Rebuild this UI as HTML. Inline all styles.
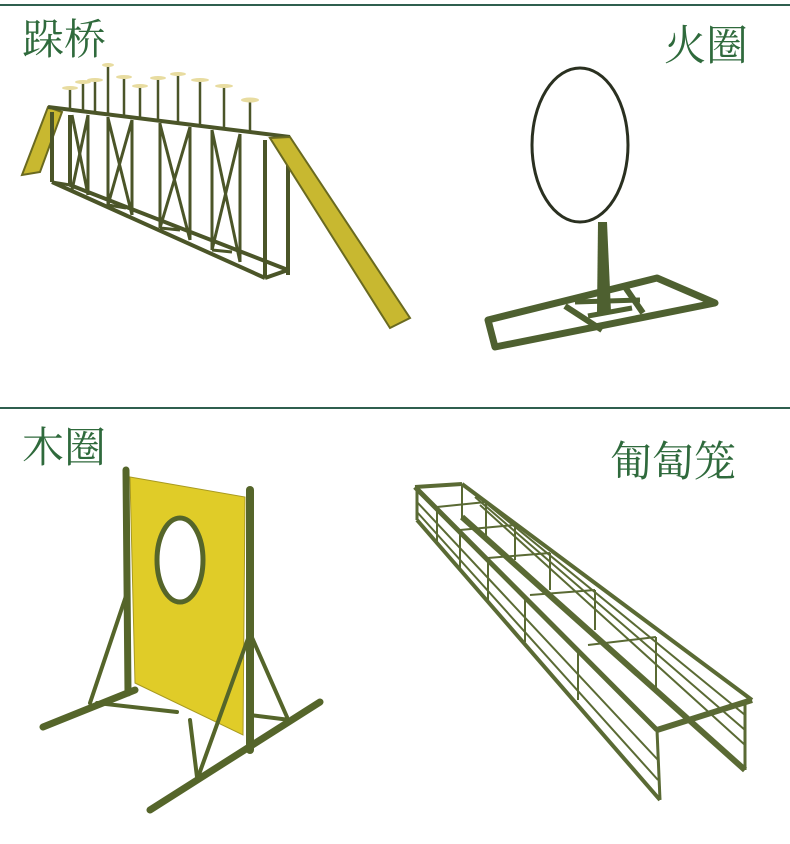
<!DOCTYPE html>
<html><head><meta charset="utf-8"><style>
html,body{margin:0;padding:0;background:#fff;}
svg{display:block}
text{font-family:"Liberation Serif","Noto Serif CJK SC",serif;fill:#2f6a3c;font-size:42px}
</style></head><body>
<svg width="790" height="844" viewBox="0 0 790 844">
<line x1="0" y1="5" x2="790" y2="5" stroke="#2f5f4f" stroke-width="2"/>
<line x1="0" y1="408" x2="790" y2="408" stroke="#2f5f4f" stroke-width="2"/>
<text x="22" y="54">跺桥</text>
<text x="664" y="60">火圈</text>
<text x="22" y="462">木圈</text>
<text x="610" y="476">匍匐笼</text>

<!-- bridge -->
<g stroke="#4b5528" stroke-width="4" fill="none">
<polygon points="22,175 48,107 62,112 40,172" fill="#c8b830" stroke="#6a6a20" stroke-width="2"/>
<line x1="48" y1="107" x2="290" y2="137"/>
<line x1="52" y1="112" x2="52" y2="182"/>
<line x1="52" y1="182" x2="265" y2="278"/>
<line x1="70" y1="115" x2="70" y2="185"/>
<line x1="70" y1="185" x2="288" y2="270"/>
<line x1="265" y1="140" x2="265" y2="278"/>
<line x1="288" y1="140" x2="288" y2="275"/>
<line x1="265" y1="278" x2="288" y2="270"/>
<g stroke-width="3">
<line x1="88" y1="115" x2="88" y2="195"/><line x1="108" y1="117" x2="108" y2="205"/>
<line x1="132" y1="120" x2="132" y2="215"/><line x1="160" y1="123" x2="160" y2="228"/>
<line x1="190" y1="127" x2="190" y2="240"/><line x1="212" y1="130" x2="212" y2="250"/>
<line x1="240" y1="134" x2="240" y2="262"/>
<line x1="72" y1="115" x2="88" y2="195"/><line x1="88" y1="115" x2="72" y2="190"/>
<line x1="108" y1="118" x2="132" y2="215"/><line x1="132" y1="120" x2="108" y2="205"/>
<line x1="160" y1="124" x2="190" y2="240"/><line x1="190" y1="127" x2="160" y2="228"/>
<line x1="212" y1="130" x2="240" y2="262"/><line x1="240" y1="134" x2="212" y2="250"/>
<line x1="52" y1="182" x2="70" y2="185"/><line x1="108" y1="205" x2="126" y2="208"/>
<line x1="160" y1="228" x2="180" y2="230"/><line x1="212" y1="250" x2="232" y2="252"/>
</g>
<g stroke-width="2.5">
<line x1="70" y1="88" x2="70" y2="110"/><line x1="83" y1="82" x2="83" y2="112"/>
<line x1="95" y1="80" x2="95" y2="113"/><line x1="108" y1="65" x2="108" y2="115"/>
<line x1="124" y1="77" x2="124" y2="117"/><line x1="140" y1="86" x2="140" y2="118"/>
<line x1="158" y1="78" x2="158" y2="121"/><line x1="178" y1="74" x2="178" y2="123"/>
<line x1="200" y1="80" x2="200" y2="127"/><line x1="224" y1="86" x2="224" y2="130"/>
<line x1="250" y1="100" x2="250" y2="132"/>
</g>
<polygon points="270,138 290,137 410,318 390,328" fill="#c8b830" stroke="#6a6a20" stroke-width="2"/>
</g>
<g fill="#e8dca0">
<ellipse cx="70" cy="88" rx="8" ry="2"/><ellipse cx="83" cy="82" rx="8" ry="2"/><ellipse cx="95" cy="80" rx="8" ry="2"/>
<ellipse cx="108" cy="65" rx="6" ry="2"/><ellipse cx="124" cy="77" rx="8" ry="2"/><ellipse cx="140" cy="86" rx="8" ry="2"/>
<ellipse cx="158" cy="78" rx="8" ry="2"/><ellipse cx="178" cy="74" rx="8" ry="2"/><ellipse cx="200" cy="80" rx="9" ry="2"/>
<ellipse cx="224" cy="86" rx="9" ry="2"/><ellipse cx="250" cy="100" rx="9" ry="2.5"/>
</g>

<!-- fire ring -->
<g fill="none">
<ellipse cx="580" cy="145" rx="48" ry="77" stroke="#2a3020" stroke-width="3"/>
<polygon points="598,222 607,222 611,312 597,312" fill="#4e6030"/>
<polygon points="488,320 657,278 715,303 495,347" stroke="#4e6030" stroke-width="7" stroke-linejoin="round"/>
<line x1="565" y1="306" x2="602" y2="330" stroke="#4e6030" stroke-width="6"/>
<line x1="625" y1="287" x2="643" y2="313" stroke="#4e6030" stroke-width="6"/>
<line x1="575" y1="302" x2="640" y2="300" stroke="#4e6030" stroke-width="5"/>
<line x1="588" y1="316" x2="632" y2="308" stroke="#4e6030" stroke-width="5"/>
</g>

<!-- wood ring -->
<g stroke="#55652a" fill="none" stroke-linecap="round">
<polygon points="130,477 245,497 243,735 135,683" fill="#e0cc28" stroke="#a89a20" stroke-width="1"/>
<ellipse cx="180" cy="560" rx="23" ry="42" fill="#fff" stroke="#55652a" stroke-width="5"/>
<line x1="126" y1="470" x2="128" y2="693" stroke-width="7"/>
<line x1="250" y1="490" x2="250" y2="750" stroke-width="8"/>
<line x1="43" y1="727" x2="135" y2="690" stroke-width="7"/>
<line x1="127" y1="593" x2="90" y2="703" stroke-width="4"/>
<line x1="97" y1="703" x2="177" y2="712" stroke-width="4"/>
<line x1="150" y1="810" x2="320" y2="702" stroke-width="7"/>
<line x1="250" y1="633" x2="197" y2="780" stroke-width="4"/>
<line x1="250" y1="633" x2="287" y2="717" stroke-width="4"/>
<line x1="190" y1="720" x2="197" y2="777" stroke-width="4"/>
<line x1="250" y1="715" x2="290" y2="720" stroke-width="4"/>
</g>

<!-- tunnel -->
<g stroke="#5a6a34" fill="none">
<line x1="415" y1="487" x2="462" y2="484" stroke-width="4"/>
<line x1="415" y1="487" x2="657" y2="730" stroke-width="5"/>
<line x1="462" y1="484" x2="752" y2="700" stroke-width="4"/>
<line x1="657" y1="730" x2="752" y2="700" stroke-width="6"/>
<line x1="417" y1="520" x2="660" y2="800" stroke-width="4"/>
<line x1="462" y1="517" x2="745" y2="770" stroke-width="6"/>
<line x1="417" y1="487" x2="417" y2="520" stroke-width="3"/>
<line x1="657" y1="730" x2="660" y2="800" stroke-width="3"/>
<line x1="745" y1="705" x2="745" y2="770" stroke-width="3"/>
<g stroke-width="2">
<line x1="417" y1="502" x2="658" y2="760"/><line x1="417" y1="512" x2="658" y2="780"/>
<line x1="470" y1="490" x2="745" y2="715"/><line x1="475" y1="497" x2="745" y2="730"/><line x1="480" y1="505" x2="745" y2="745"/>
<line x1="437" y1="507" x2="437" y2="543"/><line x1="460" y1="530" x2="460" y2="570"/>
<line x1="488" y1="558" x2="488" y2="600"/><line x1="525" y1="598" x2="525" y2="642"/>
<line x1="578" y1="650" x2="578" y2="700"/>
<line x1="462" y1="484" x2="462" y2="520"/><line x1="486" y1="502" x2="486" y2="540"/>
<line x1="515" y1="525" x2="515" y2="560"/><line x1="550" y1="553" x2="550" y2="590"/>
<line x1="595" y1="590" x2="595" y2="630"/><line x1="656" y1="637" x2="656" y2="690"/>
<line x1="437" y1="507" x2="486" y2="502"/><line x1="460" y1="530" x2="515" y2="525"/>
<line x1="488" y1="558" x2="550" y2="553"/><line x1="530" y1="595" x2="595" y2="590"/>
<line x1="588" y1="645" x2="656" y2="637"/>
</g>
</g>
</svg>
</body></html>
